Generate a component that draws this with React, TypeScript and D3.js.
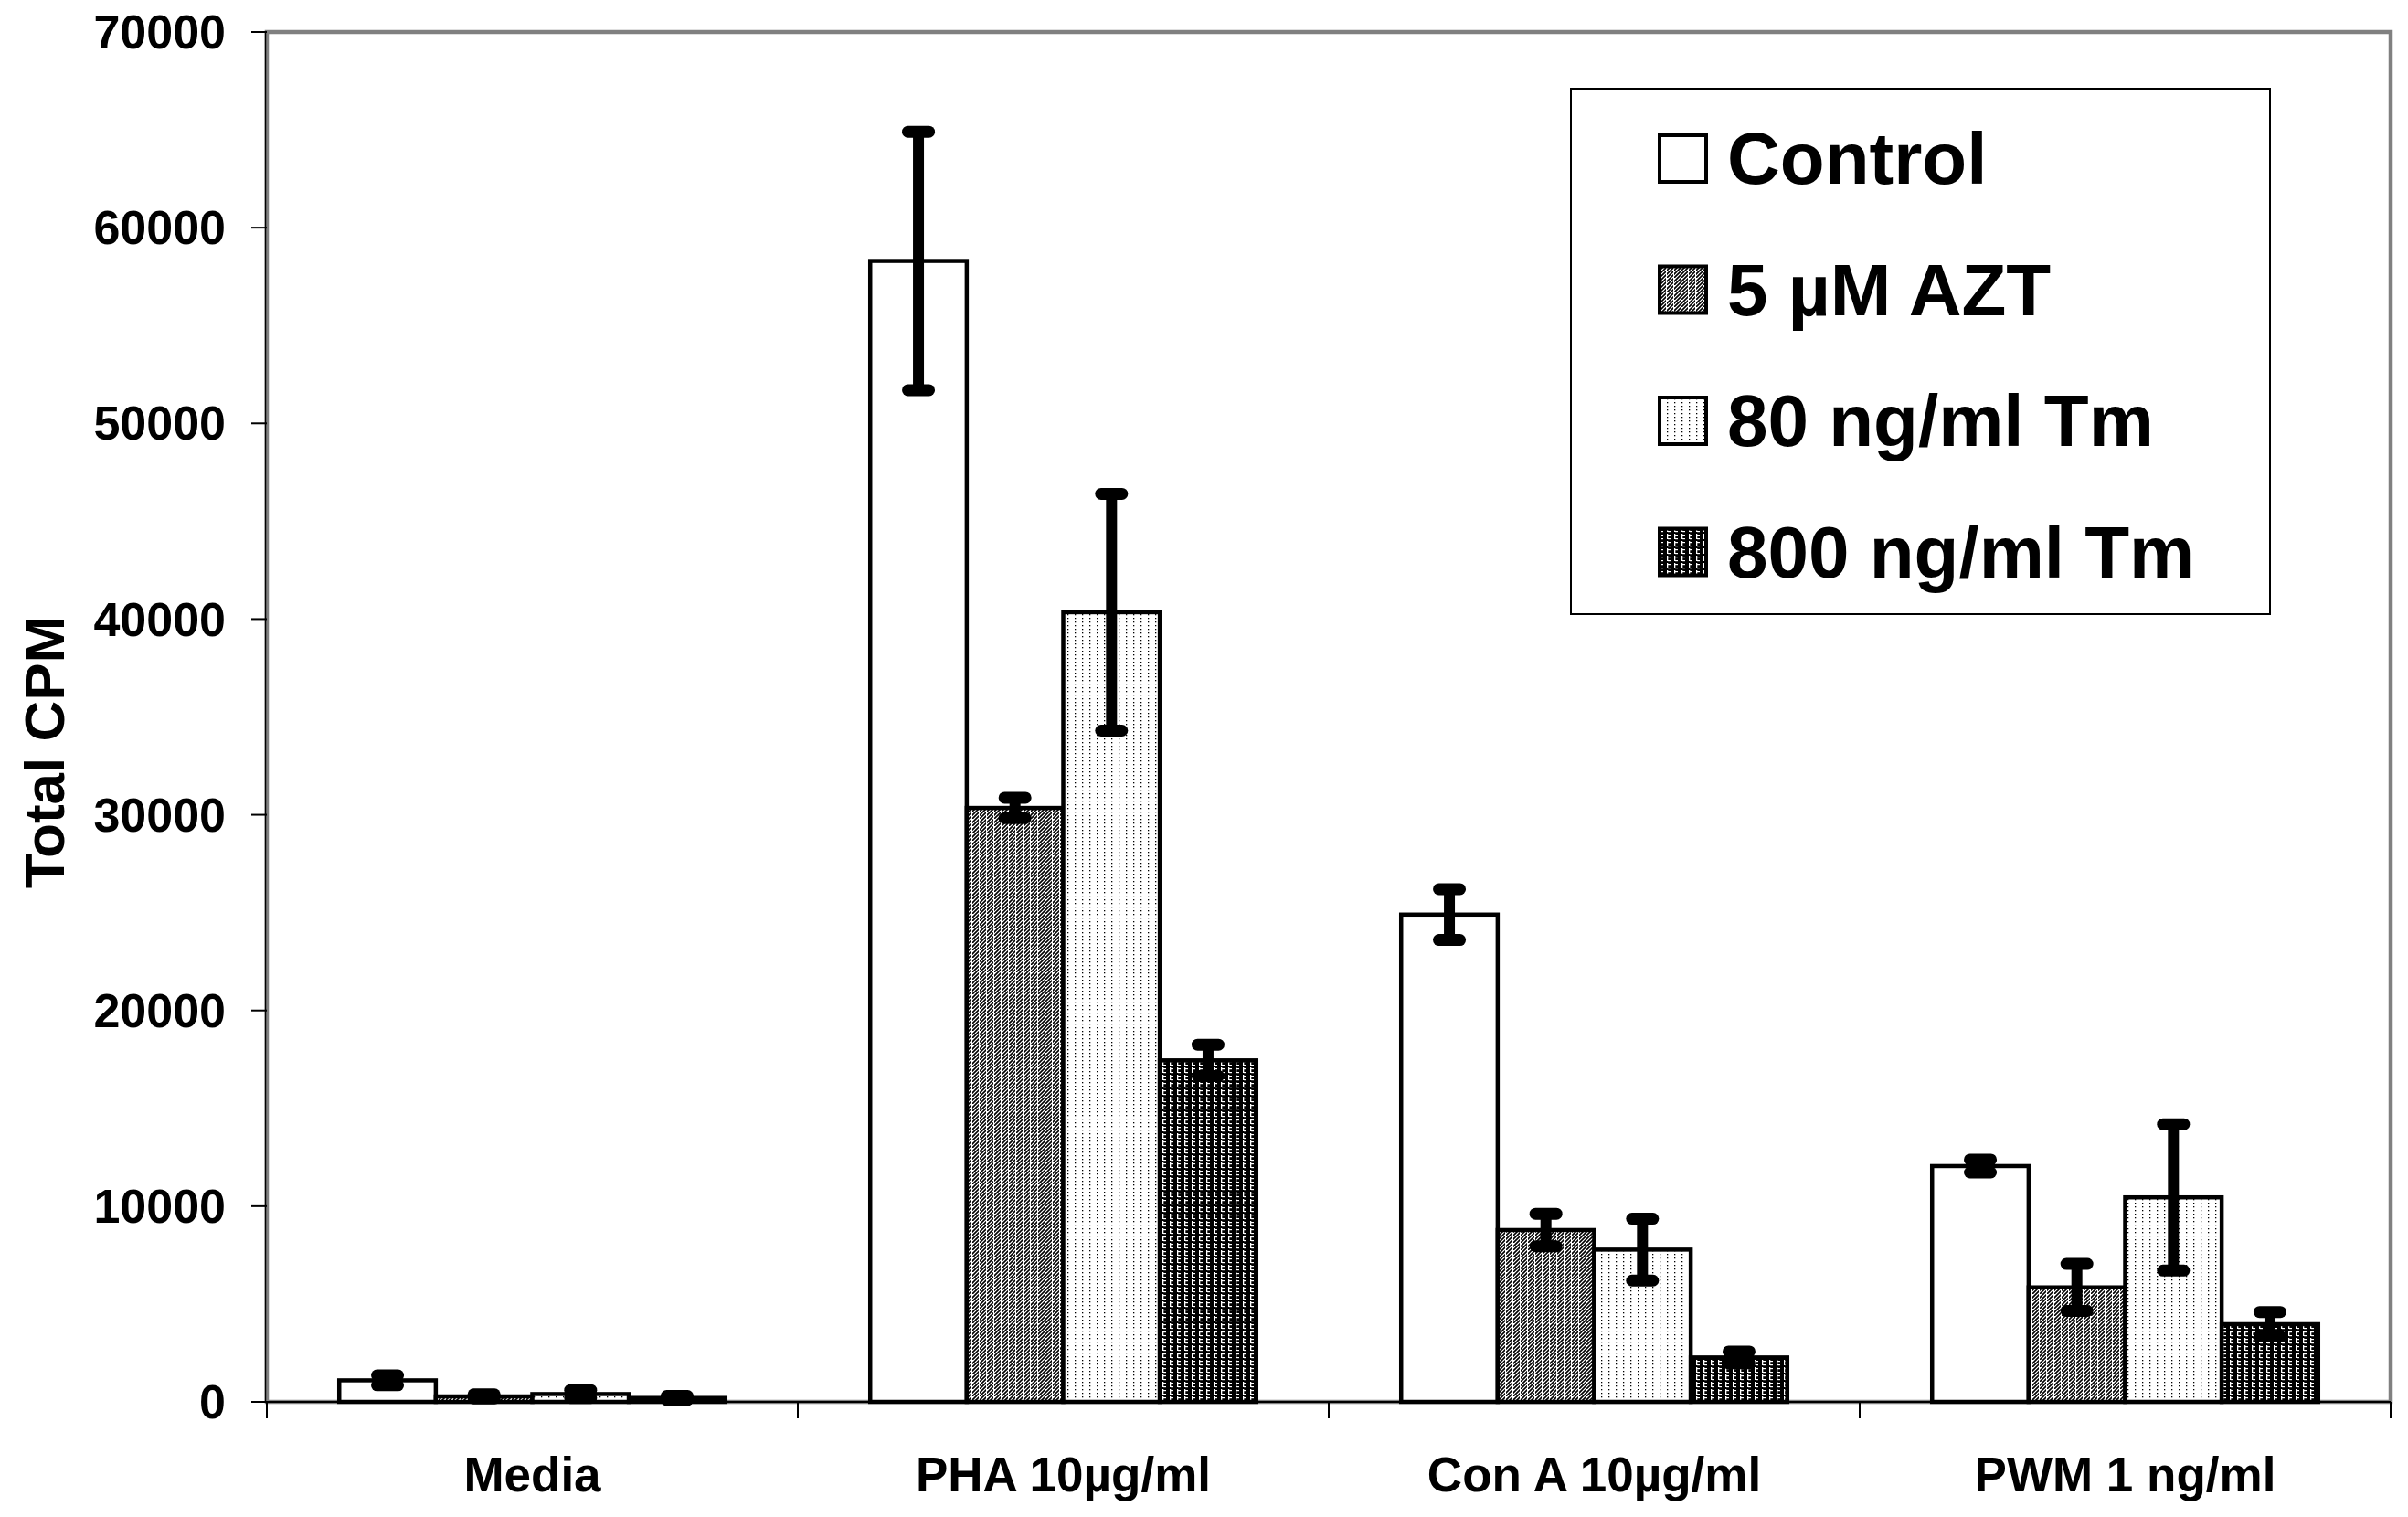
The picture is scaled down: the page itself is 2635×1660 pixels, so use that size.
import React from "react";
import * as d3 from "d3";

const categories = ["Media", "PHA 10µg/ml", "Con A 10µg/ml", "PWM 1 ng/ml"];
const seriesNames = ["Control", "5 µM AZT", "80 ng/ml Tm", "800 ng/ml Tm"];

const controlValues = [1100, 58300, 24900, 12050];
const aztValues = [280, 30350, 8780, 5850];
const tm80Values = [400, 40350, 7780, 10450];
const tm800Values = [200, 17450, 2270, 3970];

const controlErr = [250, 6600, 1300, 330];
const aztErr = [100, 520, 830, 1200];
const tm80Err = [200, 6050, 1580, 3740];
const tm800Err = [100, 800, 300, 620];

const yTicks = [0, 10000, 20000, 30000, 40000, 50000, 60000, 70000];

const seriesValues = [controlValues, aztValues, tm80Values, tm800Values];
const seriesErrors = [controlErr, aztErr, tm80Err, tm800Err];
const fills = ["#ffffff", "url(#pAzt)", "url(#pTm80)", "url(#pTm800)"];

const W = 2635;
const H = 1660;
const plot = { left: 292, right: 2616, top: 35, bottom: 1534 };
const FONT = "'Liberation Sans', Arial, Helvetica, sans-serif";

export default function App() {
  const x0 = d3.scaleBand<string>().domain(categories).range([plot.left, plot.right]).paddingInner(0).paddingOuter(0);
  const x1 = d3.scaleBand<string>().domain(seriesNames).range([0, x0.bandwidth()]).paddingInner(0).paddingOuter(0.75);
  const y = d3.scaleLinear().domain([0, 70000]).range([plot.bottom, plot.top]);

  const boundaries = [...categories.map((c) => x0(c) as number), plot.right];

  return (
    <svg width={W} height={H} viewBox={`0 0 ${W} ${H}`} style={{ position: "absolute", left: 0, top: 0, background: "#fff" }}>
      <defs>
        <pattern id="pAzt" patternUnits="userSpaceOnUse" width="8" height="8">
          <rect width="8" height="8" fill="#fff" />
          <path d="M-1,5 L5,-1 M-1,9 L9,-1 M3,9 L9,3" stroke="#000" strokeWidth="1.6" />
          <rect x="7" y="0" width="1" height="8" fill="#fff" />
        </pattern>
        <pattern id="pTm80" patternUnits="userSpaceOnUse" width="8" height="4">
          <rect width="8" height="4" fill="#fff" />
          <rect x="0" y="0" width="1.3" height="1.3" fill="#000" />
        </pattern>
        <pattern id="pTm800" patternUnits="userSpaceOnUse" width="8" height="8">
          <rect width="8" height="8" fill="#000" />
          <rect x="0" y="0" width="1.3" height="6" fill="#fff" />
          <rect x="1" y="1" width="3" height="1.2" fill="#fff" />
          <rect x="1" y="5" width="3" height="1.2" fill="#fff" />
        </pattern>
      </defs>

      {/* plot area border */}
      <rect x={plot.left} y={plot.top} width={plot.right - plot.left} height={plot.bottom - plot.top} fill="none" stroke="#808080" strokeWidth={4.5} />

      {/* y ticks & labels */}
      {yTicks.map((t) => (
        <g key={t}>
          <line x1={plot.left - 17} x2={plot.left} y1={y(t)} y2={y(t)} stroke="#000" strokeWidth={2} />
          <text x={247} y={y(t)} dy="0.35em" textAnchor="end" fontFamily={FONT} fontWeight="bold" fontSize={52} fill="#000">
            {t}
          </text>
        </g>
      ))}

      {/* x tick marks */}
      {boundaries.map((bx, i) => (
        <line key={i} x1={bx} x2={bx} y1={plot.bottom} y2={plot.bottom + 18} stroke="#000" strokeWidth={2} />
      ))}

      {/* bars */}
      {categories.map((c, ci) => (
        <g key={c}>
          {seriesNames.map((s, si) => {
            const v = seriesValues[si][ci];
            const bx = (x0(c) as number) + (x1(s) as number);
            const bw = x1.bandwidth();
            return (
              <rect key={s} x={bx} y={y(v)} width={bw} height={plot.bottom - y(v)} fill={fills[si]} stroke="#000" strokeWidth={4.5} />
            );
          })}
        </g>
      ))}

      {/* axes lines */}
      <line x1={plot.left - 1.5} x2={plot.left - 1.5} y1={plot.top} y2={plot.bottom} stroke="#000" strokeWidth={1.5} />
      <line x1={plot.left} x2={plot.right} y1={plot.bottom} y2={plot.bottom} stroke="#000" strokeWidth={2} />

      {/* error bars */}
      {categories.map((c, ci) => (
        <g key={c}>
          {seriesNames.map((s, si) => {
            const v = seriesValues[si][ci];
            const e = seriesErrors[si][ci];
            const cx = (x0(c) as number) + (x1(s) as number) + x1.bandwidth() / 2;
            const yt = y(v + e);
            const yb = y(v - e);
            return (
              <g key={s} stroke="#000" strokeLinecap="round">
                <line x1={cx} x2={cx} y1={yt} y2={yb} strokeWidth={12} strokeLinecap="butt" />
                <line x1={cx - 11.5} x2={cx + 11.5} y1={yt} y2={yt} strokeWidth={13} />
                <line x1={cx - 11.5} x2={cx + 11.5} y1={yb} y2={yb} strokeWidth={13} />
              </g>
            );
          })}
        </g>
      ))}

      {/* x labels */}
      {categories.map((c) => (
        <text key={c} x={(x0(c) as number) + x0.bandwidth() / 2} y={1632} textAnchor="middle" fontFamily={FONT} fontWeight="bold" fontSize={53} fill="#000">
          {c}
        </text>
      ))}

      {/* y title */}
      <text transform="translate(70,823) rotate(-90)" textAnchor="middle" fontFamily={FONT} fontWeight="bold" fontSize={62} fill="#000">
        Total CPM
      </text>

      {/* legend */}
      <rect x={1719} y={97} width={765} height={575} fill="#fff" stroke="#000" strokeWidth={2} />
      {seriesNames.map((s, si) => {
        const base = 201 + si * 143.5;
        return (
          <g key={s}>
            <rect x={1816} y={base - 53} width={51} height={51} fill={fills[si]} stroke="#000" strokeWidth={4} />
            <text x={1890} y={base} fontFamily={FONT} fontWeight="bold" fontSize={80} fill="#000">
              {s}
            </text>
          </g>
        );
      })}
    </svg>
  );
}
